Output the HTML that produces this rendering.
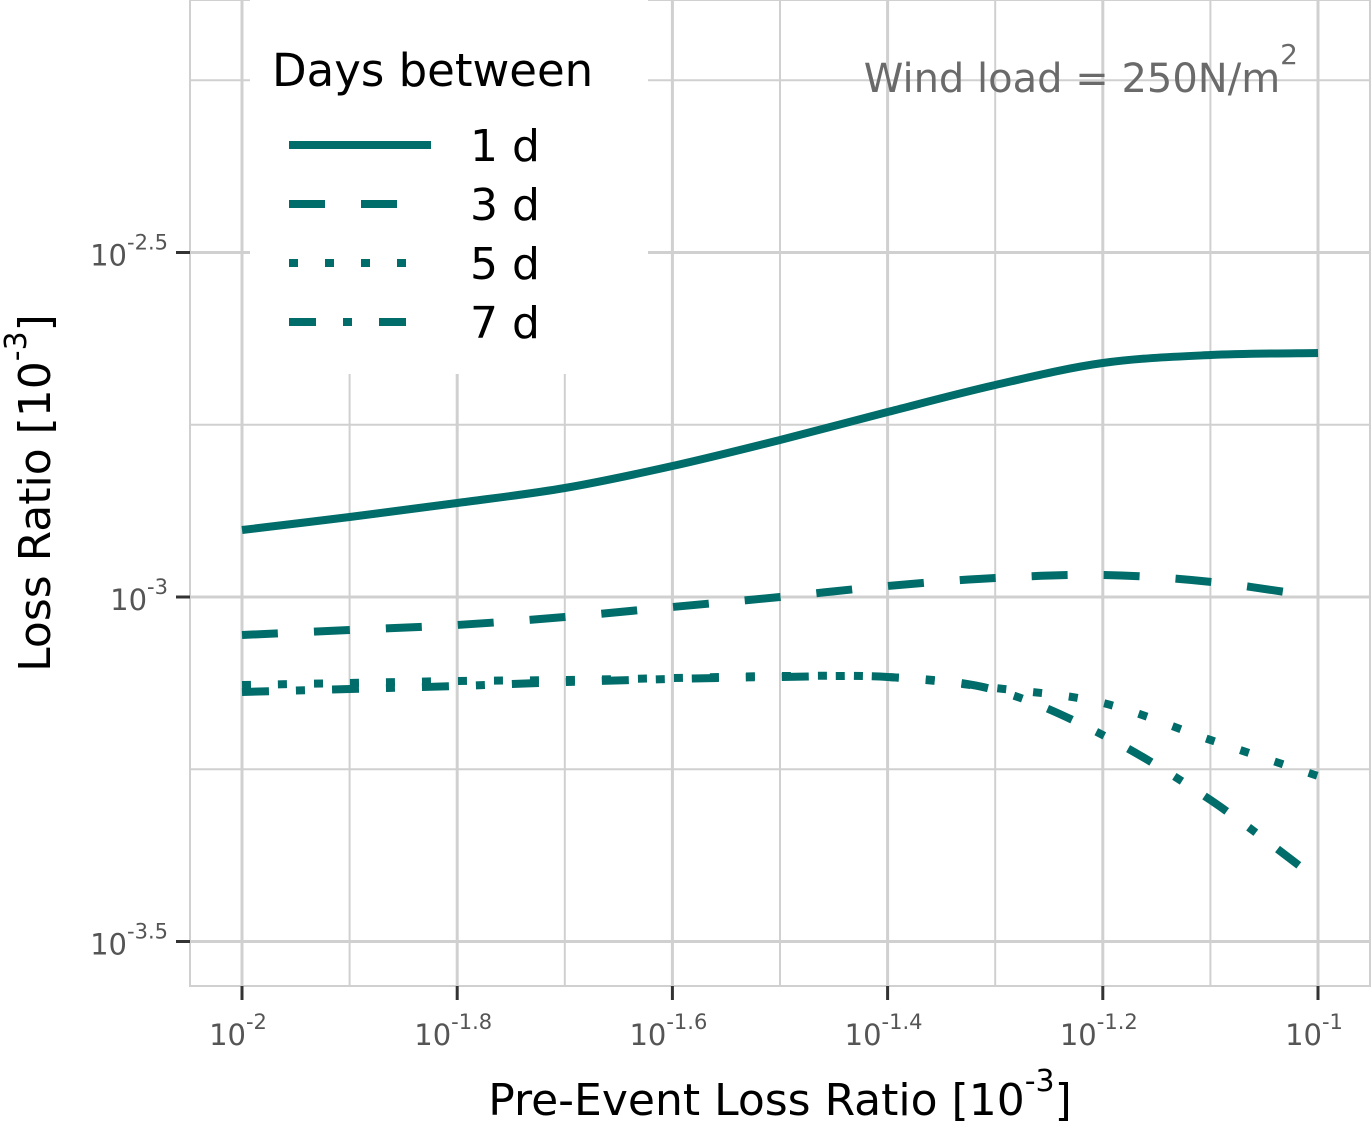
<!DOCTYPE html>
<html><head><meta charset="utf-8"><style>
body{margin:0;background:#fff;}
svg text{font-family:"DejaVu Sans","Liberation Sans",sans-serif;}
</style></head><body>
<svg id="chart" width="1372" height="1124" xmlns="http://www.w3.org/2000/svg">
<rect width="1372" height="1124" fill="#fff"/>
<g id="grid"></g>
<rect x="190" y="0" width="1180" height="986" fill="none" stroke="#d0d0d0" stroke-width="2"/>
<g id="series"></g>
<g id="axes"></g>
<rect x="250" y="0" width="398" height="374" fill="#fff"/>
<text x="272" y="86" font-size="45" fill="#000">Days between</text>
<g id="legend"></g>
<text x="1298" y="92" font-size="40" fill="#6a6a6a" text-anchor="end">Wind load = 250N/m<tspan dy="-28" font-size="28">2</tspan></text>
<text x="780" y="1115" font-size="44" text-anchor="middle">Pre-Event Loss Ratio [10<tspan dy="-24" font-size="30">-3</tspan><tspan dy="24">]</tspan></text>
<text transform="translate(50,493) rotate(-90)" font-size="44" text-anchor="middle">Loss Ratio [10<tspan dy="-24" font-size="30">-3</tspan><tspan dy="24">]</tspan></text>
</svg>
<script>
const xVals=[-2,-1.9,-1.8,-1.7,-1.6,-1.5,-1.4,-1.3,-1.2,-1.1,-1];
const s1d=[-2.9028,-2.8839,-2.8636,-2.8418,-2.8099,-2.7721,-2.7315,-2.6923,-2.6604,-2.6488,-2.6459];
const s3d=[-3.0552,-3.0479,-3.0406,-3.029,-3.0145,-3.0,-2.984,-2.9724,-2.968,-2.978,-3.0];
const s5d=[-3.1277,-3.1248,-3.1219,-3.1205,-3.1176,-3.1147,-3.1161,-3.1321,-3.1538,-3.2075,-3.2598];
const s7d=[-3.1379,-3.1335,-3.1292,-3.1234,-3.119,-3.1161,-3.1161,-3.135,-3.2003,-3.2946,-3.4107];
const seriesNames=["1 d","3 d","5 d","7 d"];
const xTicks=[-2,-1.8,-1.6,-1.4,-1.2,-1];
const xTickLabels=["-2","-1.8","-1.6","-1.4","-1.2","-1"];
const yTicks=[-2.5,-3,-3.5];
const yTickLabels=["-2.5","-3","-3.5"];
const NS="http://www.w3.org/2000/svg";
const X=v=>242+(v+2)*1076;
const Y=v=>597-(v+3)*689;
const color="#006d6a";
const dashes=["","36 36","9 27","27 27 9 27"];
function mk(t,a,p){const e=document.createElementNS(NS,t);for(const k in a)e.setAttribute(k,a[k]);p.appendChild(e);return e;}
const grid=document.getElementById('grid');
for(let v=-2;v<=-0.99;v+=0.1){const major=Math.round(v*10)%2===0;const l=mk('line',{x1:X(v),x2:X(v),y1:0,y2:986,stroke:'#d0d0d0','stroke-width':major?3:2},grid);

}
for(let v=-2.25;v>=-3.76;v-=0.25){const yy=Y(v);if(yy<0||yy>986)continue;const major=Math.abs(v*2-Math.round(v*2))<1e-6;const l=mk('line',{x1:190,x2:1370,y1:yy,y2:yy,stroke:'#d0d0d0','stroke-width':major?3:2},grid);

}
const axes=document.getElementById('axes');
xTicks.forEach((v,i)=>{const t=mk('line',{x1:X(v),x2:X(v),y1:986,y2:1000,stroke:'#333','stroke-width':3},axes);


const tx=mk('text',{x:X(v)-4,y:1045,'font-size':29,fill:'#555','text-anchor':'middle'},axes);


tx.innerHTML='10<tspan dy="-16" font-size="21">'+xTickLabels[i]+'</tspan>';});
yTicks.forEach((v,i)=>{const t=mk('line',{x1:176,x2:190,y1:Y(v),y2:Y(v),stroke:'#333','stroke-width':3},axes);


const tx=mk('text',{x:168,y:Y(v)+13,'font-size':29,fill:'#555','text-anchor':'end'},axes);


tx.innerHTML='10<tspan dy="-16" font-size="21">'+yTickLabels[i]+'</tspan>';});
const sg=document.getElementById('series');
[s1d,s3d,s5d,s7d].forEach((s,i)=>{
 const pts=xVals.map((x,j)=>[X(x),Y(s[j])]);
 let d='M'+pts[0][0]+','+pts[0][1];
 for(let j=0;j<pts.length-1;j++){const p0=pts[j-1]||pts[j],p1=pts[j],p2=pts[j+1],p3=pts[j+2]||p2;
  d+=' C'+(p1[0]+(p2[0]-p0[0])/6)+','+(p1[1]+(p2[1]-p0[1])/6)+' '+(p2[0]-(p3[0]-p1[0])/6)+','+(p2[1]-(p3[1]-p1[1])/6)+' '+p2[0]+','+p2[1];}
 const p=mk('path',{d:d,fill:'none',stroke:color,'stroke-width':8,'stroke-dasharray':dashes[i]},sg);
 
 
});
const lg=document.getElementById('legend');
seriesNames.forEach((n,i)=>{const yy=145+i*59;
 const l=mk('line',{x1:289,x2:431,y1:yy,y2:yy,stroke:color,'stroke-width':8,'stroke-dasharray':dashes[i]},lg);
 
 
 const t=mk('text',{x:470,y:yy+16,'font-size':44},lg);
 
 
 t.textContent=n;});
</script>
</body></html>
